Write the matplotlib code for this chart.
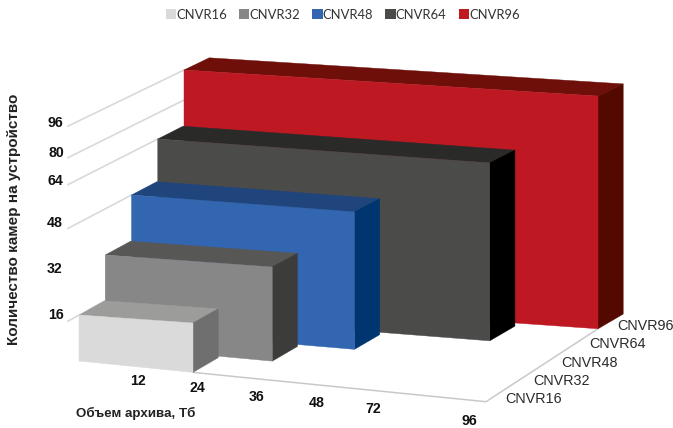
import numpy as np
import matplotlib
matplotlib.use("Agg")
import matplotlib.pyplot as plt
from matplotlib.patches import Polygon, Patch

# ---- data ----
series_names = ["CNVR16", "CNVR32", "CNVR48", "CNVR64", "CNVR96"]
series_cameras = [16, 32, 48, 64, 96]
series_archive = [24, 36, 48, 72, 96]
camera_ticks = [16, 32, 48, 64, 80, 96]
archive_ticks = [12, 24, 36, 48, 72, 96]
gridline_ticks = [16, 48, 64, 80, 96]
ylabel = "Количество камер на устройство"
xlabel = "Объем архива, Тб"

# ---- styles ----
front_colors = ["#DADADA", "#878787", "#3266B0", "#4B4B4A", "#BE1823"]
top_colors = ["#9C9C9B", "#575756", "#20457C", "#2A2A29", "#6E0F0A"]
side_colors = ["#706F6F", "#3C3C3B", "#00366F", "#000000", "#540900"]

# ---- oblique 3D axes: scale knots (pixels) ----
ORIGIN = (79.0, 361.0)
DEPTH_DX, DEPTH_DY, TILT = 26.25, -15.3, 2.6
Z_KNOTS = [0, 16, 32, 48, 64, 80, 96]
H_KNOTS = [0, 46, 91.7, 138.4, 182, 208.8, 240.2]
X_KNOTS = [0, 24, 36, 48, 72]
W_KNOTS = [0, 114, 167, 223, 332]
TOP_SLOPE_H = [46, 92, 138, 182, 240]
TOP_SLOPE = [.07, .072, .076, .072, .063]


def project(x, d, z):
    """archive volume, series depth, cameras -> figure pixel position"""
    h = np.interp(z, Z_KNOTS, H_KNOTS)
    w = np.interp(x, X_KNOTS + [96], W_KNOTS + [407 + 1.75 * d])
    floor_slope = .1 - .0075 * d
    t = np.clip(h / 46, 0, 1)
    slope = (1 - t) * floor_slope + t * np.interp(h, TOP_SLOPE_H, TOP_SLOPE)
    px = ORIGIN[0] + DEPTH_DX * d + w
    py = ORIGIN[1] + DEPTH_DY * d + slope * w - h + TILT * d * h / 240.2
    return px, py


def left_edge(d, z):
    h = np.interp(z, Z_KNOTS, H_KNOTS)
    return ORIGIN[0] + DEPTH_DX * d, ORIGIN[1] + DEPTH_DY * d - h + TILT * d * h / 240.2


plt.rcParams["font.family"] = ["Liberation Sans", "DejaVu Sans"]
fig = plt.figure(figsize=(6.73, 4.28), dpi=100)
ax = fig.add_axes([0, 0, 1, 1])
ax.set_xlim(0, 673)
ax.set_ylim(428, 0)
ax.axis("off")

GRID = "#D9D9D9"
FLOOR = "#C9C9C9"
THICK = 0.96

# floor edges
p0 = project(series_archive[0], 0, 0)
p1 = project(96, 0, 0)
p2 = project(96, 4, 0)
ax.plot([p0[0], p1[0], p2[0]], [p0[1], p1[1], p2[1]], color=FLOOR, lw=1.1, zorder=1)

# gridlines on the left wall
for z in gridline_ticks:
    stop = min((i for i, c in enumerate(series_cameras) if c >= z))
    a = left_edge(-0.42, z)
    b = left_edge(stop, z)
    ax.plot([a[0], b[0]], [a[1], b[1]], color=GRID, lw=1.2, zorder=1)

# series, back to front
for i in reversed(range(len(series_names))):
    x, z = series_archive[i], series_cameras[i]
    fl, ftl = left_edge(i, 0), left_edge(i, z)
    fr, ftr = project(x, i, 0), project(x, i, z)
    bl = left_edge(i + THICK, z)
    dx, dy = DEPTH_DX * THICK, (DEPTH_DY + TILT * np.interp(z, Z_KNOTS, H_KNOTS) / 240.2) * THICK
    btr = (ftr[0] + dx, ftr[1] + dy)
    bbr = (fr[0] + dx, fr[1] + DEPTH_DY * THICK)
    zo = 2 + (4 - i)
    ax.add_patch(Polygon([ftl, bl, btr, ftr], closed=True, fc=top_colors[i], ec=top_colors[i], lw=.3, zorder=zo))
    ax.add_patch(Polygon([fr, ftr, btr, bbr], closed=True, fc=side_colors[i], ec=side_colors[i], lw=.3, zorder=zo))
    ax.add_patch(Polygon([fl, ftl, ftr, fr], closed=True, fc=front_colors[i], ec=front_colors[i], lw=.3, zorder=zo))

# tick labels
TICK_KW = dict(ha="center", va="center", fontsize=10.2, color="#111111", weight="bold", zorder=10)
y_label_pos = [(56, 315), (55, 269), (55, 223), (55, 181), (56, 153), (55, 123)]
for lab, (tx, ty) in zip(camera_ticks, y_label_pos):
    ax.text(tx, ty, str(lab), **TICK_KW)
x_label_pos = [(138, 381), (197, 388), (257, 397), (317, 403), (373, 409), (469, 421)]
for lab, (tx, ty) in zip(archive_ticks, x_label_pos):
    ax.text(tx, ty, str(lab), **TICK_KW)

# series labels on the depth axis
for i, name in enumerate(series_names):
    px, py = project(96, i + 0.5, 0)
    ax.text(px + 5, py + 6.5, name, ha="left", va="center", fontsize=10.4, color="#2b2b2b", zorder=10)

# axis titles
ax.text(14, 219, ylabel, rotation=90, ha="center", va="center", fontsize=11,
        weight="bold", color="#222222")
ax.text(76, 413, xlabel, ha="left", va="center", fontsize=9.6, weight="bold", color="#222222")

# legend
handles = [Patch(fc=c, ec="none", label=n) for c, n in zip(front_colors, series_names)]
fig.legend(handles=handles, ncol=5, frameon=False, loc="upper left",
           bbox_to_anchor=(163 / 673, 1 - 6 / 428), borderaxespad=0, borderpad=0.2,
           prop={"family": "Lato", "size": 9.4}, labelcolor="#333333",
           handlelength=0.8, handleheight=0.8, handletextpad=0.0, columnspacing=0.93)

fig.savefig("out.png", dpi=100)
